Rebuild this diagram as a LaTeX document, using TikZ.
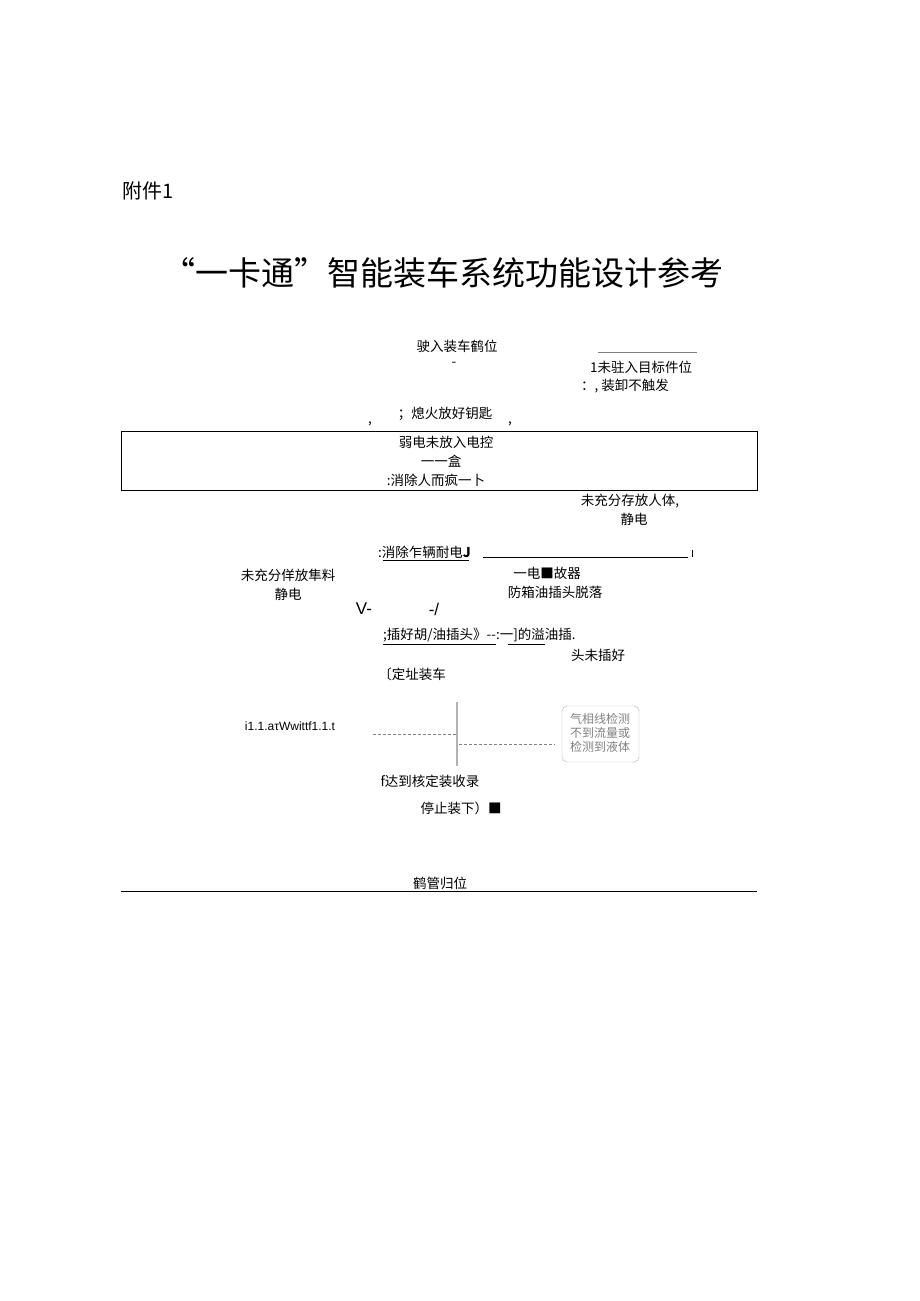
\documentclass[tikz,border=0pt]{standalone}
\usepackage{fontspec}
\newfontfamily\cjk{Noto Sans CJK SC}
\setmainfont{Liberation Sans}
\begin{document}
\begin{tikzpicture}[x=1pt,y=-1pt,
 t/.style={font=\cjk\fontsize{13.5}{15}\selectfont,inner sep=0pt,align=center},
 gr/.style={draw=gray!50,densely dotted}]
\useasboundingbox (0,0) rectangle (920,1301);
\node[t,anchor=west,font=\cjk\fontsize{20}{22}\selectfont] (fj) at (122,191) {附件1};
\node[t,font=\cjk\fontsize{33}{36}\selectfont] (title) at (443,273) {“一卡通”智能装车系统功能设计参考};
\node[t] (n1) at (457,346) {驶入装车鹤位};
\node[t] (n1b) at (454,364) {-};
\draw[gray] (598,352) -- (697,352);
\node[t,anchor=west] (r1) at (590,367) {1未驻入目标件位};
\node[t,anchor=west] (r2) at (581,386) {：, 装卸不触发};
\node[t] (n2) at (445,414) {；熄火放好钥匙};
\node[t] (c1) at (370,424) {,};
\node[t] (c2) at (510,424) {,};
\draw (121,431) rectangle (757,490);
\node[t] (n3) at (446,442) {弱电未放入电控};
\node[t] (n3b) at (441,461) {一一盒};
\node[t] (n4) at (436,480) {:消除人而疯一卜};
\node[t] (r3) at (630,501) {未充分存放人体,};
\node[t] (r4) at (634,519) {静电};
\node[t,anchor=west] (n5) at (378,552) {:消除乍辆耐电\textbf{J}};
\draw (383,560) -- (469,560);
\draw (483,557) -- (688,557) (692,550) -- (692,557);
\node[t] (l1) at (288,575) {未充分佯放隼料};
\node[t] (l2) at (288,594) {静电};
\node[t] (m1) at (547,573) {一电■故器};
\node[t] (m2) at (555,592) {防箱油插头脱落};
\node[t,font=\fontsize{17}{19}\selectfont] (v1) at (364,609) {V-};
\node[t,font=\fontsize{17}{19}\selectfont] (v2) at (434,609) {-/};
\node[t,anchor=west] (n6) at (383,635) {;插好胡/油插头》--:一]的溢油插.};
\draw (383,644) -- (496,644) (508,644) -- (545,644);
\node[t] (r5) at (598,655) {头未插好};
\node[t] (n7) at (412,674) {〔定址装车};
\node[t,font=\fontsize{12}{14}\selectfont] (gz) at (290,726) {i1.1.aτWwittf1.1.t};
\draw[gray!60,line width=1.2pt] (457,702) -- (457,766);
\draw[gray,densely dashed] (373,734) -- (456,734) (459,744) -- (555,744);
\draw[gray!60,rounded corners=5pt] (562,706) rectangle (639,762);
\node[t,gray,font=\cjk\fontsize{12}{14}\selectfont,text width=70pt,align=center] (bx) at (600,733) {气相线检测\\不到流量或\\检测到液体};
\node[t] (n8) at (430,781) {f达到核定装收录};
\node[t] (n9) at (461,808) {停止装下）■};
\node[t] (n10) at (440,883) {鹤管归位};
\draw (121,891) -- (757,891);
\end{tikzpicture}
\end{document}
